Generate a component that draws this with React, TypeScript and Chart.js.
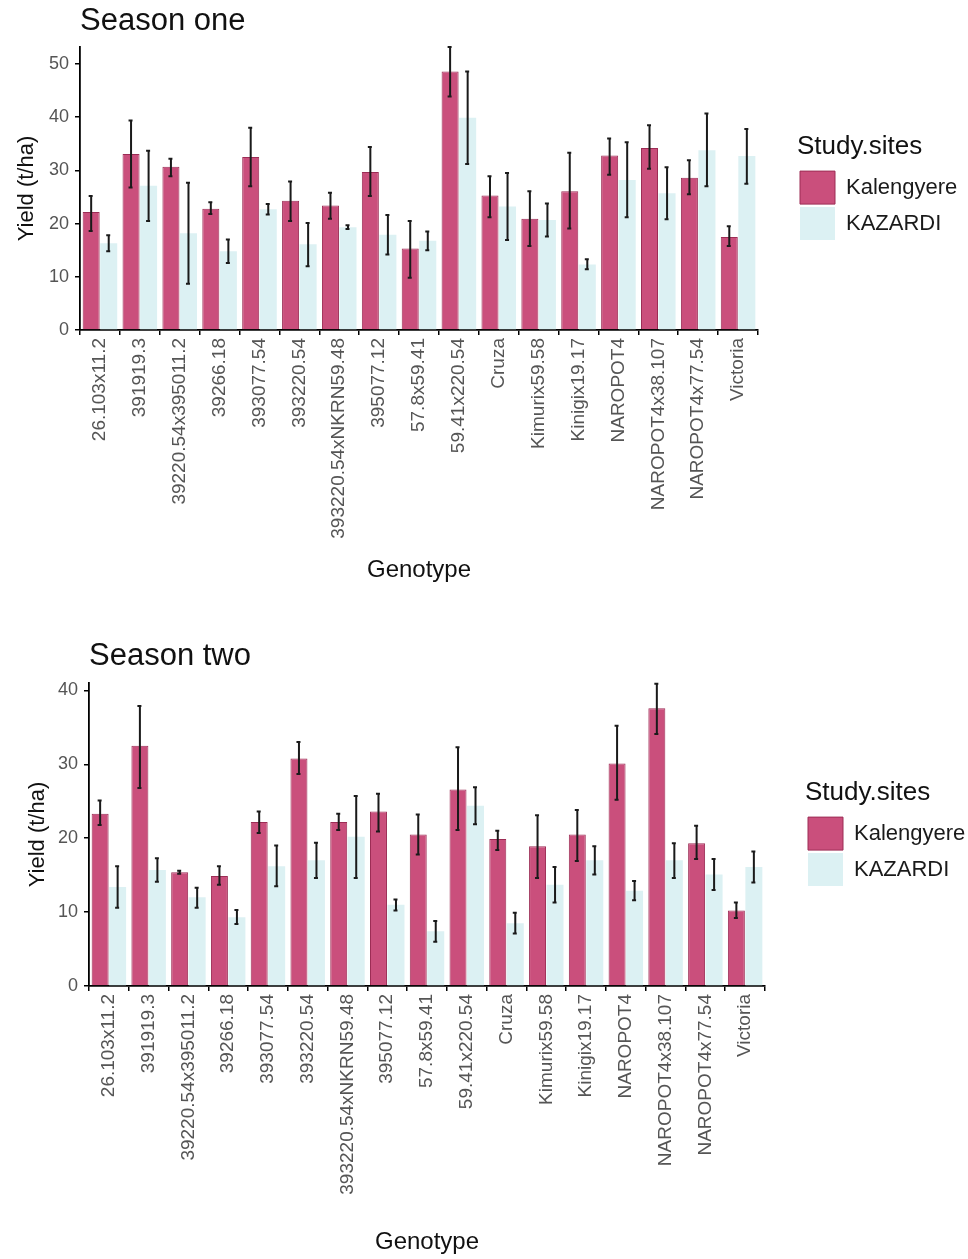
import React, { useEffect, useRef } from 'react';
import { Chart, registerables } from 'chart.js';

Chart.register(...registerables);

// ---------------- Data ----------------
const genotypes = [
  '26.103x11.2', '391919.3', '39220.54x395011.2', '39266.18', '393077.54', '393220.54',
  '393220.54xNKRN59.48', '395077.12', '57.8x59.41', '59.41x220.54', 'Cruza', 'Kimurix59.58',
  'Kinigix19.17', 'NAROPOT4', 'NAROPOT4x38.107', 'NAROPOT4x77.54', 'Victoria',
];
const siteNames = ['Kalengyere', 'KAZARDI'];

// Season one
const s1Kal = [22.2, 33.1, 30.7, 22.8, 32.5, 24.3, 23.4, 29.7, 15.3, 48.6, 25.3, 20.9, 26.1, 32.8, 34.2, 28.6, 17.5];
const s1KalLow = [18.6, 26.8, 28.9, 21.8, 27.0, 20.5, 20.9, 25.2, 9.8, 43.9, 21.2, 15.8, 19.1, 29.2, 30.3, 25.5, 15.8];
const s1KalHigh = [25.2, 39.4, 32.2, 24.0, 38.0, 27.9, 25.8, 34.4, 20.5, 53.2, 28.9, 26.1, 33.3, 36.0, 38.5, 31.9, 19.5];
const s1Kaz = [16.3, 27.1, 18.2, 14.8, 22.7, 16.1, 19.3, 17.9, 16.8, 39.9, 23.2, 20.7, 12.3, 28.2, 25.7, 33.8, 32.7];
const s1KazLow = [14.8, 20.5, 8.7, 12.6, 21.7, 12.0, 19.0, 14.2, 15.0, 31.2, 16.9, 17.6, 11.4, 21.2, 20.8, 27.0, 27.5];
const s1KazHigh = [17.8, 33.7, 27.7, 17.0, 23.7, 20.1, 19.7, 21.6, 18.5, 48.6, 29.5, 23.8, 13.3, 35.3, 30.6, 40.7, 37.8];

// Season two
const s2Kal = [23.3, 32.5, 15.4, 14.9, 22.2, 30.8, 22.2, 23.6, 20.5, 26.6, 19.9, 18.9, 20.5, 30.1, 37.6, 19.3, 10.2];
const s2KalLow = [21.8, 26.8, 15.2, 13.7, 20.7, 28.7, 21.1, 20.9, 17.8, 21.1, 18.4, 14.6, 16.9, 25.2, 34.1, 17.2, 9.2];
const s2KalHigh = [25.1, 37.9, 15.6, 16.2, 23.6, 33.0, 23.3, 26.0, 23.2, 32.3, 21.0, 23.1, 23.8, 35.2, 40.9, 21.7, 11.3];
const s2Kaz = [13.4, 15.7, 12.0, 9.3, 16.2, 17.0, 20.2, 11.0, 7.4, 24.4, 8.5, 13.7, 17.0, 12.9, 17.0, 15.1, 16.1];
const s2KazLow = [10.6, 14.1, 10.6, 8.4, 13.5, 14.6, 14.6, 10.2, 6.0, 21.9, 7.1, 11.3, 15.1, 11.6, 14.6, 13.0, 14.0];
const s2KazHigh = [16.2, 17.3, 13.3, 10.3, 19.0, 19.4, 25.7, 11.7, 8.8, 26.9, 9.9, 16.1, 18.9, 14.2, 19.3, 17.2, 18.2];

const yTickStep = 10;

// ---------------- Styles ----------------
const FONT = "'Liberation Sans', Arial, Helvetica, sans-serif";
const KAL_FILL = '#ca4f7c';
const KAL_BORDER = '#9c2d55';
const KAZ_FILL = '#dcf1f3';
const TICK_COLOR = '#555555';

Chart.defaults.font.family = FONT;

const errorBarPlugin = {
  id: 'errorBars',
  afterDatasetsDraw(chart: any) {
    const ctx = chart.ctx;
    const yScale = chart.scales.y;
    chart.data.datasets.forEach((ds: any, di: number) => {
      const meta = chart.getDatasetMeta(di);
      if (!ds.errLow || !ds.errHigh) return;
      meta.data.forEach((bar: any, i: number) => {
        const x = bar.x;
        const yl = yScale.getPixelForValue(ds.errLow[i]);
        const yh = yScale.getPixelForValue(ds.errHigh[i]);
        ctx.save();
        ctx.strokeStyle = '#1a1a1a';
        ctx.lineWidth = 2;
        ctx.beginPath();
        ctx.moveTo(x, yl);
        ctx.lineTo(x, yh);
        ctx.moveTo(x - 2.5, yl);
        ctx.lineTo(x + 1.5, yl);
        ctx.moveTo(x - 2.5, yh);
        ctx.lineTo(x + 1.5, yh);
        ctx.stroke();
        ctx.restore();
      });
    });
  },
};

const legendPlacePlugin = {
  id: 'legendPlace',
  afterInit(chart: any, _a: any, opts: any) {
    const lg = chart.legend;
    if (lg && !lg.__patched) {
      const orig = lg.fit.bind(lg);
      lg.fit = function () {
        orig();
        lg.width = opts.width;
      };
      lg.__patched = true;
    }
  },
  afterLayout(chart: any, _a: any, opts: any) {
    const lg = chart.legend;
    if (!lg) return;
    const dx = opts.left - lg.left;
    lg.left += dx;
    lg.right += dx;
    if (lg.legendHitBoxes) lg.legendHitBoxes.forEach((h: any) => (h.left += dx));
  },
};

type Cfg = {
  title: string;
  height: number;
  kal: number[]; kalLow: number[]; kalHigh: number[];
  kaz: number[]; kazLow: number[]; kazHigh: number[];
  yMax: number;
  yWidth: number;
  xHeight: number;
  titlePadTop: number;
  titlePadBottom: number;
  yTitlePad: number;
  xTitlePadBottom: number;
  legendLeft: number;
  legendWidth: number;
};

function SeasonChart({ cfg }: { cfg: Cfg }) {
  const ref = useRef<HTMLCanvasElement | null>(null);
  useEffect(() => {
    if (!ref.current) return;
    const chart = new Chart(ref.current, {
      type: 'bar',
      data: {
        labels: genotypes,
        datasets: [
          {
            label: siteNames[0],
            data: cfg.kal,
            backgroundColor: KAL_FILL,
            borderColor: KAL_BORDER,
            borderWidth: 1,
            categoryPercentage: 0.88,
            barPercentage: 0.97,
            errLow: cfg.kalLow,
            errHigh: cfg.kalHigh,
          } as any,
          {
            label: siteNames[1],
            data: cfg.kaz,
            backgroundColor: KAZ_FILL,
            borderColor: KAZ_FILL,
            borderWidth: 0,
            categoryPercentage: 0.88,
            barPercentage: 0.97,
            errLow: cfg.kazLow,
            errHigh: cfg.kazHigh,
          } as any,
        ],
      },
      options: {
        responsive: false,
        animation: false,
        layout: { padding: 0, autoPadding: false } as any,
        plugins: {
          title: {
            display: true,
            text: cfg.title,
            align: 'start',
            fullSize: false,
            color: '#111111',
            font: { size: 31, weight: 'normal', family: FONT },
            padding: { top: cfg.titlePadTop, bottom: cfg.titlePadBottom },
          },
          legend: {
            display: true,
            position: 'right',
            fullSize: false,
            align: 'center',
            title: {
              display: true,
              text: 'Study.sites',
              color: '#111111',
              position: 'start',
              font: { size: 26, family: FONT },
              padding: { top: 0, bottom: 3 },
            } as any,
            labels: {
              boxWidth: 35,
              boxHeight: 33,
              padding: 3,
              color: '#1a1a1a',
              font: { size: 22, family: FONT },
            },
          },
          tooltip: { enabled: false },
          legendPlace: { left: cfg.legendLeft, width: cfg.legendWidth },
        } as any,
        scales: {
          x: {
            type: 'category',
            offset: true,
            afterFit: (s: any) => { s.height = cfg.xHeight; },
            grid: {
              display: true,
              drawOnChartArea: false,
              drawTicks: true,
              tickLength: 5,
              color: '#000000',
              lineWidth: 1.5,
            },
            border: { display: true, color: '#000000', width: 1.8 },
            ticks: {
              autoSkip: false,
              minRotation: 90,
              maxRotation: 90,
              padding: 3,
              color: TICK_COLOR,
              font: { size: 19, family: FONT },
            },
            title: {
              display: true,
              text: 'Genotype',
              color: '#111111',
              font: { size: 24, family: FONT },
              padding: { top: 0, bottom: cfg.xTitlePadBottom },
            },
          },
          y: {
            type: 'linear',
            min: 0,
            max: cfg.yMax,
            afterFit: (s: any) => { s.width = cfg.yWidth; },
            afterBuildTicks: (s: any) => {
              const t: any[] = [];
              for (let v = 0; v <= cfg.yMax + 1e-9; v += yTickStep) t.push({ value: v });
              s.ticks = t;
            },
            grid: {
              display: true,
              drawOnChartArea: false,
              drawTicks: true,
              tickLength: 5,
              color: '#000000',
              lineWidth: 1.5,
            },
            border: { display: true, color: '#000000', width: 1.8 },
            ticks: {
              stepSize: yTickStep,
              padding: 6,
              color: TICK_COLOR,
              font: { size: 18, family: FONT },
            },
            title: {
              display: true,
              text: 'Yield (t/ha)',
              color: '#111111',
              font: { size: 22, family: FONT },
              padding: { top: cfg.yTitlePad, bottom: 0 },
            },
          },
        },
      },
      plugins: [errorBarPlugin, legendPlacePlugin],
    });
    return () => chart.destroy();
  }, [cfg]);
  return <canvas ref={ref} width={968} height={cfg.height} style={{ display: 'block', width: 968, height: cfg.height }} />;
}

const season1: Cfg = {
  title: 'Season one',
  height: 600,
  kal: s1Kal, kalLow: s1KalLow, kalHigh: s1KalHigh,
  kaz: s1Kaz, kazLow: s1KazLow, kazHigh: s1KazHigh,
  yMax: 53.2,
  yWidth: 80,
  xHeight: 270,
  titlePadTop: 2.4,
  titlePadBottom: 7.4,
  yTitlePad: 14,
  xTitlePadBottom: 15.6,
  legendLeft: 797,
  legendWidth: 210,
};

const season2: Cfg = {
  title: 'Season two',
  height: 629,
  kal: s2Kal, kalLow: s2KalLow, kalHigh: s2KalHigh,
  kaz: s2Kaz, kazLow: s2KazLow, kazHigh: s2KazHigh,
  yMax: 41,
  yWidth: 89,
  xHeight: 273,
  titlePadTop: 7.4,
  titlePadBottom: 8.4,
  yTitlePad: 25,
  xTitlePadBottom: 2.6,
  legendLeft: 805,
  legendWidth: 203,
};

export default function App() {
  return (
    <div style={{ position: 'absolute', left: 0, top: 0, width: 968, height: 1259, background: '#ffffff' }}>
      <div style={{ position: 'absolute', left: 0, top: 0 }}>
        <SeasonChart cfg={season1} />
      </div>
      <div style={{ position: 'absolute', left: 0, top: 630 }}>
        <SeasonChart cfg={season2} />
      </div>
    </div>
  );
}
